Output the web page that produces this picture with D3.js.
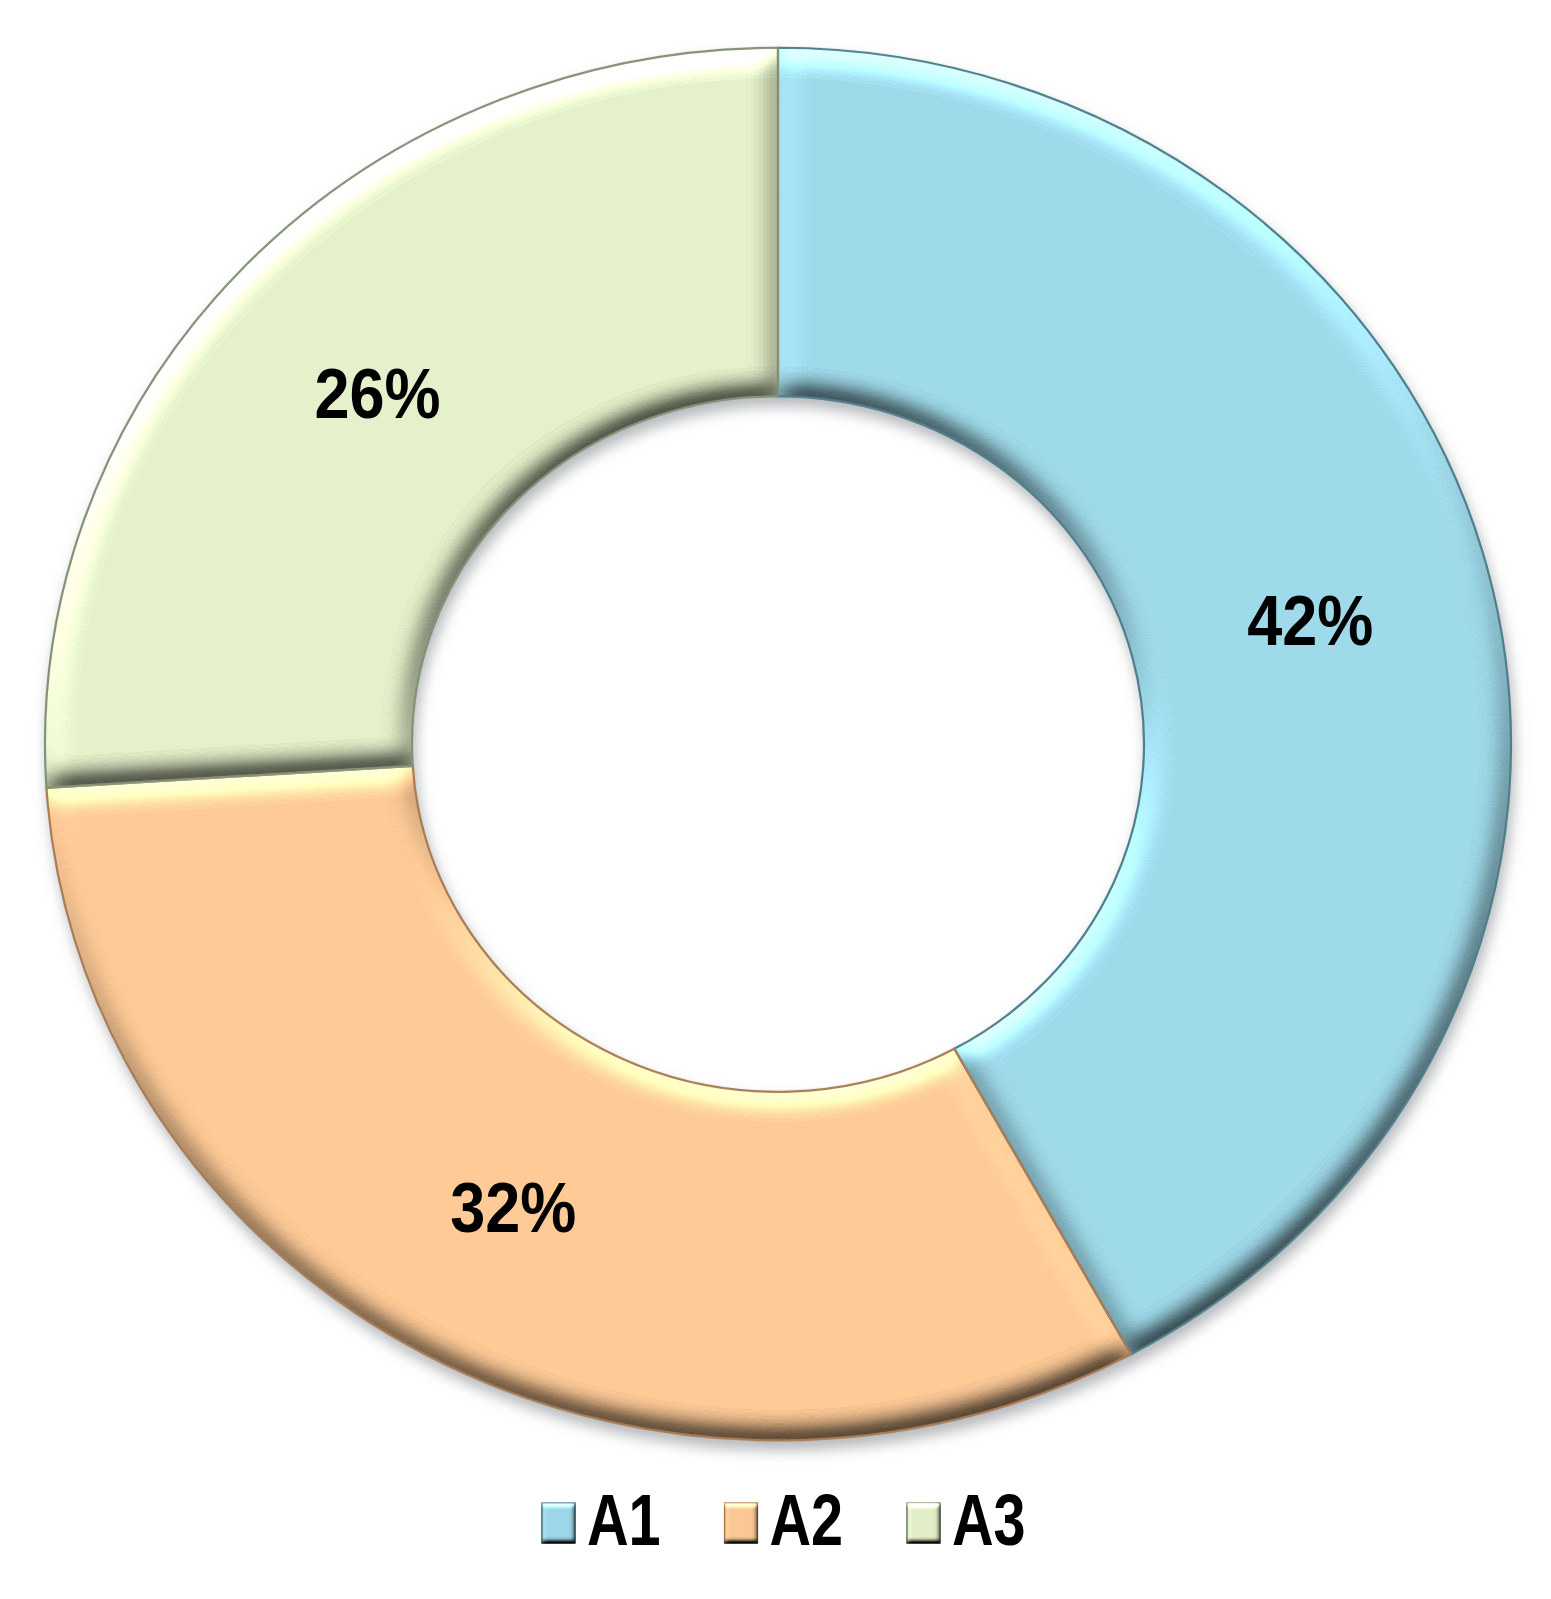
<!DOCTYPE html>
<html>
<head>
<meta charset="utf-8">
<script src="https://cdn.jsdelivr.net/npm/d3@7"></script>
<style>
  html, body { margin: 0; padding: 0; background: #fff; }
  svg { display: block; }
  text { font-family: "Liberation Sans", Arial, sans-serif; font-weight: bold; fill: #000; }
</style>
</head>
<body>
<svg id="chart" width="1551" height="1599"></svg>
<script>
// ---- data ----
const categories = ["A1", "A2", "A3"];
const values = [42, 32, 26];
const labels = ["42%", "32%", "26%"];
const colors = ["#9dd7e7", "#fbc895", "#e2eec8"];
const strokes = ["#4f7f8c", "#a97d55", "#84927a"];

// ---- layout ----
const W = 1551, H = 1599;
const cx = 778, cy = 744;
const outerR = 733, innerR = 366, yScale = 0.95;

const svg = d3.select("#chart");
const defs = svg.append("defs");

function bevel(id, sd, scale) {
  const f = defs.append("filter").attr("id", id)
    .attr("x", "-5%").attr("y", "-5%").attr("width", "110%").attr("height", "110%")
    .attr("color-interpolation-filters", "sRGB");
  f.append("feGaussianBlur").attr("in", "SourceAlpha").attr("stdDeviation", sd).attr("result", "blur");
  const dl = f.append("feDiffuseLighting").attr("in", "blur").attr("surfaceScale", scale)
    .attr("diffuseConstant", 1).attr("lighting-color", "#fff").attr("result", "light");
  dl.append("feDistantLight").attr("azimuth", 255).attr("elevation", 40);
  f.append("feComposite").attr("in", "SourceGraphic").attr("in2", "light")
    .attr("operator", "arithmetic").attr("k1", 1.556).attr("k2", 0).attr("k3", 0).attr("k4", 0)
    .attr("result", "lit");
  f.append("feComposite").attr("in", "lit").attr("in2", "SourceAlpha").attr("operator", "in");
}
bevel("bevel", 13, 8);
bevel("bevelSmall", 2.5, 3);

const shadow = defs.append("filter").attr("id", "shadow")
  .attr("x", "-5%").attr("y", "-5%").attr("width", "110%").attr("height", "112%");
shadow.append("feDropShadow").attr("dx", 3).attr("dy", 9).attr("stdDeviation", 7)
  .attr("flood-color", "#7a7f85").attr("flood-opacity", 0.55);

const pie = d3.pie().sort(null).value(d => d.value);
const arcs = pie(categories.map((c, i) => ({ cat: c, value: values[i], i })));
const arc = d3.arc().innerRadius(innerR).outerRadius(outerR);

const outer = svg.append("g").attr("filter", "url(#shadow)");
const g = outer.append("g").attr("transform", `translate(${cx},${cy}) scale(1,${yScale})`);

g.selectAll("path.slice").data(arcs).join("path")
  .attr("class", "slice")
  .attr("d", arc)
  .attr("fill", d => colors[d.data.i])
  .attr("filter", "url(#bevel)");

g.selectAll("path.edge").data(arcs).join("path")
  .attr("class", "edge")
  .attr("d", arc)
  .attr("fill", "none")
  .attr("stroke", d => strokes[d.data.i])
  .attr("stroke-width", 2.2)
  .attr("vector-effect", "non-scaling-stroke");

// labels
svg.selectAll("text.lbl").data(arcs).join("text")
  .attr("class", "lbl")
  .attr("text-anchor", "middle")
  .attr("font-size", 70)
  .attr("transform", d => {
    const c = arc.centroid(d);
    return `translate(${cx + c[0]},${cy + c[1] * yScale + 31}) scale(0.9,1)`;
  })
  .text(d => labels[d.data.i]);

// legend
const lx = d3.scalePoint().domain(categories).range([542, 907]);
const leg = svg.append("g");
const items = leg.selectAll("g").data(categories).join("g")
  .attr("transform", d => `translate(${lx(d)},1503)`);
items.append("rect")
  .attr("width", 33).attr("height", 40)
  .attr("fill", (d, i) => colors[i])
  .attr("stroke", (d, i) => strokes[i]).attr("stroke-width", 1.5)
  .attr("filter", "url(#bevelSmall)");
items.append("text")
  .attr("font-size", 72)
  .attr("transform", "translate(45,42) scale(0.8,1)")
  .text(d => d);
</script>
</body>
</html>
